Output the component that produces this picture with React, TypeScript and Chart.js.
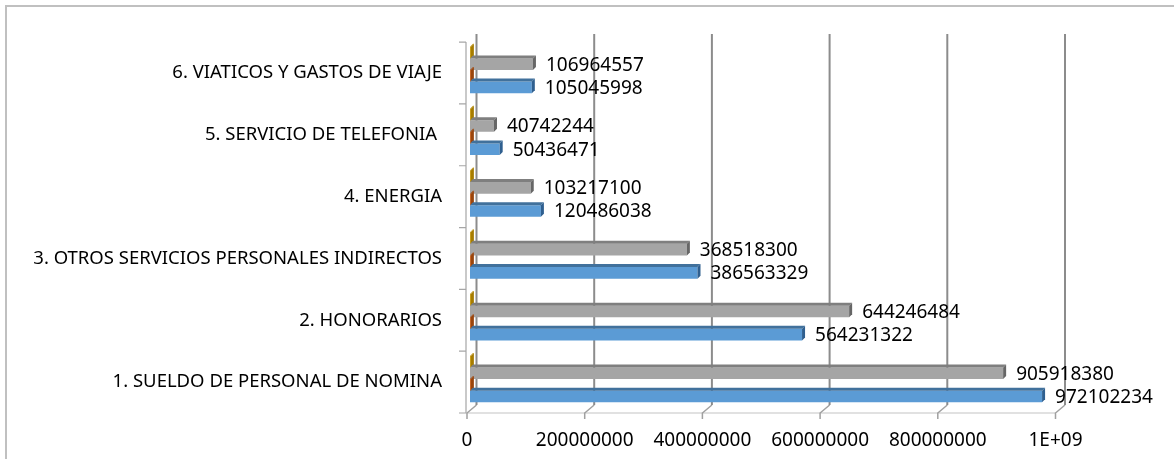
import React, { useEffect, useRef } from 'react';
import Chart from 'chart.js/auto';

const categories = [
  '1. SUELDO DE PERSONAL DE NOMINA',
  '2. HONORARIOS',
  '3. OTROS SERVICIOS PERSONALES INDIRECTOS',
  '4. ENERGIA',
  '5. SERVICIO DE TELEFONIA ',
  '6. VIATICOS Y GASTOS DE VIAJE',
];

const blueValues = [972102234, 564231322, 386563329, 120486038, 50436471, 105045998];
const orangeValues = [1500000, 1500000, 1500000, 1500000, 1500000, 1500000];
const grayValues = [905918380, 644246484, 368518300, 103217100, 40742244, 106964557];
const yellowValues = [1500000, 1500000, 1500000, 1500000, 1500000, 1500000];

const xTickLabels = ['0', '200000000', '400000000', '600000000', '800000000', '1E+09'];

const FONT = "'Noto Sans', sans-serif";
const DEPTH = 3;

// faux 3d walls and floor, like the office chart
const wallsPlugin = {
  id: 'walls',
  beforeDatasetsDraw(chart: any) {
    const { ctx, chartArea: a } = chart;
    const xs = chart.scales.x;
    const front = (v: number) => xs.getPixelForValue(v) - 3;
    const back = (v: number) => xs.getPixelForValue(v) + 6.5;
    const fy = a.bottom + 3;
    const by = a.bottom - 5;
    const ty = a.top - 5;
    ctx.save();

    // left front axis + category ticks
    ctx.strokeStyle = '#a6a6a6';
    ctx.lineWidth = 1.2;
    ctx.beginPath();
    ctx.moveTo(a.left - 4, a.top + 3);
    ctx.lineTo(a.left - 4, fy);
    for (let k = 0; k <= categories.length; k++) {
      const y = a.top + 3 + (k * a.height) / categories.length;
      ctx.moveTo(a.left - 11, y);
      ctx.lineTo(a.left - 4, y);
    }
    ctx.stroke();

    // floor front edge
    ctx.strokeStyle = '#c4c4c4';
    ctx.beginPath();
    ctx.moveTo(a.left - 4, fy);
    ctx.lineTo(front(1e9), fy);
    ctx.stroke();

    xs.ticks.forEach((t: any) => {
      const f = front(t.value);
      const b = back(t.value);
      ctx.strokeStyle = '#a0a0a0';
      ctx.lineWidth = 1.5;
      ctx.beginPath();
      ctx.moveTo(f, fy + 6);
      ctx.lineTo(f, fy);
      ctx.lineTo(b, by);
      ctx.stroke();
      ctx.strokeStyle = '#8c8c8c';
      ctx.lineWidth = 2;
      ctx.beginPath();
      ctx.moveTo(b, by);
      ctx.lineTo(b, ty);
      ctx.stroke();
    });
    ctx.restore();
  },
  afterDatasetsDraw(chart: any) {
    const { ctx } = chart;
    ctx.save();
    chart.data.datasets.forEach((ds: any, i: number) => {
      const meta = chart.getDatasetMeta(i);
      meta.data.forEach((bar: any, j: number) => {
        const { x, y, base, height } = bar.getProps(['x', 'y', 'base', 'height'], true);
        const top = y - height / 2;
        const bottom = y + height / 2;
        ctx.fillStyle = ds.topColor;
        ctx.beginPath();
        ctx.moveTo(base, top);
        ctx.lineTo(base + DEPTH, top - DEPTH);
        ctx.lineTo(x + DEPTH, top - DEPTH);
        ctx.lineTo(x, top);
        ctx.closePath();
        ctx.fill();
        ctx.fillStyle = ds.sideColor;
        ctx.beginPath();
        ctx.moveTo(x, top);
        ctx.lineTo(x + DEPTH, top - DEPTH);
        ctx.lineTo(x + DEPTH, bottom - DEPTH);
        ctx.lineTo(x, bottom);
        ctx.closePath();
        ctx.fill();
        if (ds.showLabel) {
          ctx.fillStyle = '#000';
          ctx.font = `19px ${FONT}`;
          ctx.textAlign = 'left';
          ctx.textBaseline = 'middle';
          ctx.fillText(String(ds.data[j]), x + DEPTH + 10, y + 1);
        }
      });
    });
    ctx.restore();
  },
};

export default function App() {
  const canvasRef = useRef<HTMLCanvasElement>(null);
  const chartRef = useRef<Chart | null>(null);

  useEffect(() => {
    if (!canvasRef.current) return;
    if (chartRef.current) chartRef.current.destroy();

    chartRef.current = new Chart(canvasRef.current, {
      type: 'bar',
      data: {
        labels: categories,
        // listed top to bottom inside each group
        datasets: [
          { label: 'Serie 4', data: yellowValues, backgroundColor: '#c79400', topColor: '#bf9000', sideColor: '#a67c00', showLabel: false },
          { label: 'Serie 3', data: grayValues, backgroundColor: '#a5a5a5', topColor: '#7f7f7f', sideColor: '#666666', showLabel: true },
          { label: 'Serie 2', data: orangeValues, backgroundColor: '#c55a11', topColor: '#a84c0e', sideColor: '#9a450c', showLabel: false },
          { label: 'Serie 1', data: blueValues, backgroundColor: '#5b9bd5', topColor: '#41719c', sideColor: '#2f5f8f', showLabel: true },
        ] as any,
      },
      options: {
        indexAxis: 'y',
        animation: false,
        responsive: true,
        maintainAspectRatio: false,
        datasets: { bar: { categoryPercentage: 0.75, barPercentage: 1 } },
        layout: { padding: { top: 27, right: 115.5, bottom: 0, left: 0 } },
        plugins: { legend: { display: false }, tooltip: { enabled: false } },
        scales: {
          y: {
            reverse: true,
            grid: { display: false, drawTicks: false },
            border: { display: false },
            ticks: { color: '#000', font: { family: FONT, size: 18.5 }, padding: 28, labelOffset: 3 },
            afterFit: (s: any) => { s.width = 470; },
          },
          x: {
            min: 0,
            max: 1e9,
            grid: { display: false, drawTicks: false },
            border: { display: false },
            ticks: {
              stepSize: 2e8,
              color: '#000',
              font: { family: FONT, size: 19 },
              padding: 19,
              labelOffset: -3,
              maxRotation: 0,
              callback: (_v: any, i: number) => xTickLabels[i],
            },
            afterFit: (s: any) => { s.height = 49; },
          },
        },
      },
      plugins: [wallsPlugin],
    });

    return () => {
      if (chartRef.current) {
        chartRef.current.destroy();
        chartRef.current = null;
      }
    };
  }, []);

  return (
    <div style={{ position: 'fixed', left: 0, top: 0, width: 1174, height: 459, background: '#fff' }}>
      <div style={{ position: 'absolute', left: 5, top: 5, right: 0, bottom: 0, borderTop: '2px solid #c0c0c0', borderLeft: '2px solid #c0c0c0' }} />
      <div style={{ position: 'absolute', left: 0, top: 0, width: 1174, height: 459 }}>
        <canvas ref={canvasRef} />
      </div>
    </div>
  );
}
